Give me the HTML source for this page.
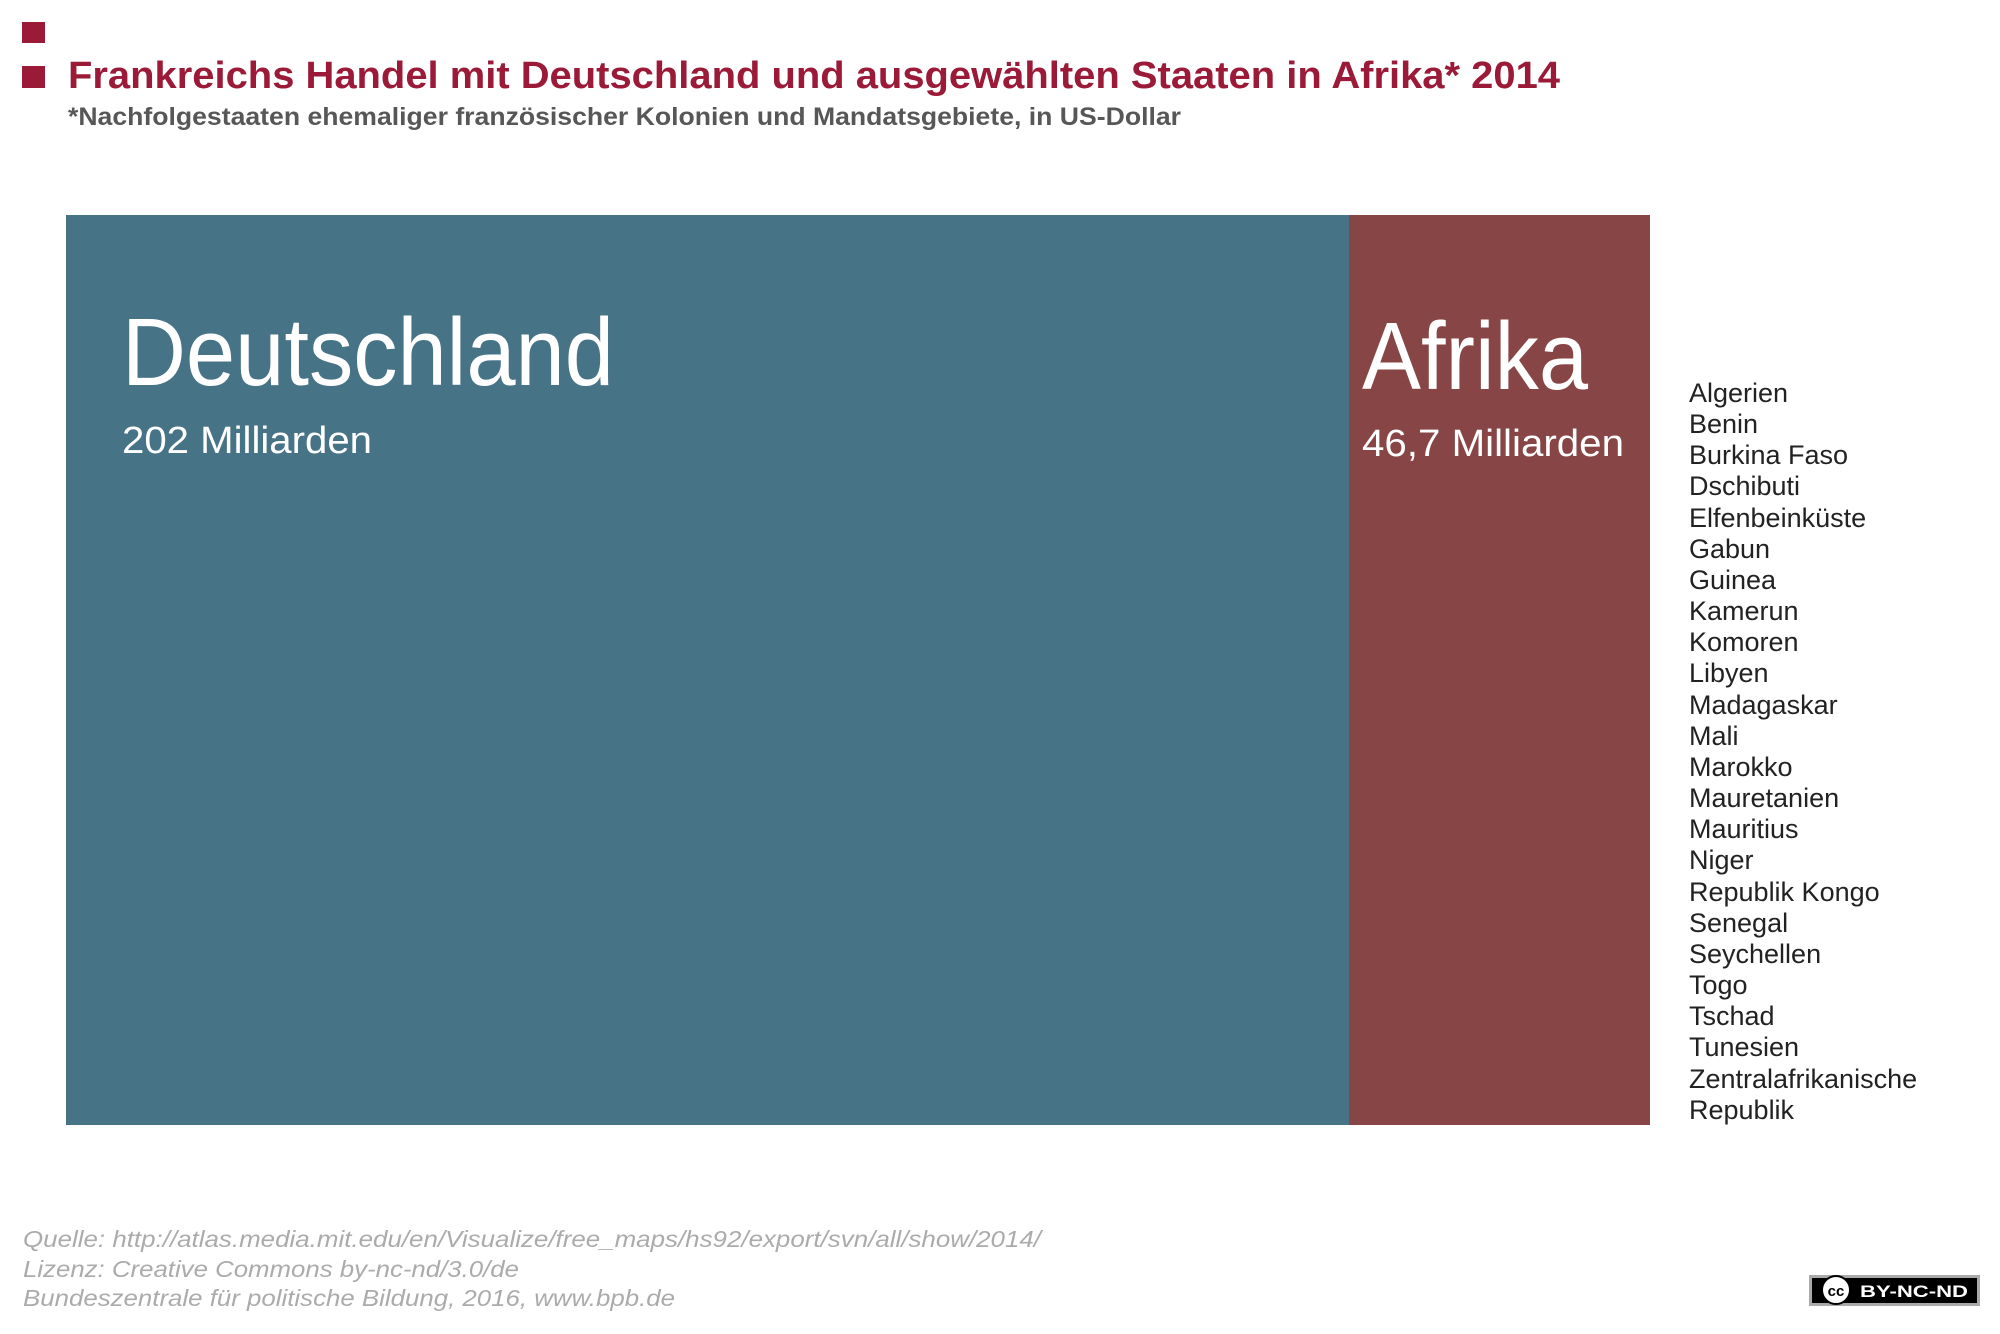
<!DOCTYPE html>
<html><head><meta charset="utf-8"><style>
html,body{margin:0;padding:0;background:#fff;}
svg{display:block;}
</style></head><body>
<svg width="2000" height="1334" viewBox="0 0 2000 1334" xmlns="http://www.w3.org/2000/svg" font-family="Liberation Sans, Arial, sans-serif">
<rect x="22" y="22" width="23" height="21" fill="#9a1a38"/>
<rect x="22" y="66" width="23" height="22" fill="#9a1a38"/>
<text x="68" y="88" font-size="38" font-weight="bold" fill="#9a1a38" textLength="1492" lengthAdjust="spacingAndGlyphs">Frankreichs Handel mit Deutschland und ausgewählten Staaten in Afrika* 2014</text>
<text x="68" y="125" font-size="25" font-weight="bold" fill="#575757" textLength="1113" lengthAdjust="spacingAndGlyphs">*Nachfolgestaaten ehemaliger französischer Kolonien und Mandatsgebiete, in US-Dollar</text>
<rect x="66" y="215" width="1283" height="910" fill="#477387"/>
<rect x="1349" y="215" width="301" height="910" fill="#874546"/>
<text x="122" y="385" font-size="96" fill="#fff" textLength="492" lengthAdjust="spacingAndGlyphs">Deutschland</text>
<text x="122" y="453" font-size="38" fill="#fff" textLength="250" lengthAdjust="spacingAndGlyphs">202 Milliarden</text>
<text x="1362" y="389" font-size="96" fill="#fff" textLength="226" lengthAdjust="spacingAndGlyphs">Afrika</text>
<text x="1362" y="456" font-size="38" fill="#fff" textLength="262" lengthAdjust="spacingAndGlyphs">46,7 Milliarden</text>
<g font-size="27" fill="#222">
<text x="1689" y="402">Algerien</text>
<text x="1689" y="433">Benin</text>
<text x="1689" y="464">Burkina Faso</text>
<text x="1689" y="495">Dschibuti</text>
<text x="1689" y="527">Elfenbeinküste</text>
<text x="1689" y="558">Gabun</text>
<text x="1689" y="589">Guinea</text>
<text x="1689" y="620">Kamerun</text>
<text x="1689" y="651">Komoren</text>
<text x="1689" y="682">Libyen</text>
<text x="1689" y="714">Madagaskar</text>
<text x="1689" y="745">Mali</text>
<text x="1689" y="776">Marokko</text>
<text x="1689" y="807">Mauretanien</text>
<text x="1689" y="838">Mauritius</text>
<text x="1689" y="869">Niger</text>
<text x="1689" y="901">Republik Kongo</text>
<text x="1689" y="932">Senegal</text>
<text x="1689" y="963">Seychellen</text>
<text x="1689" y="994">Togo</text>
<text x="1689" y="1025">Tschad</text>
<text x="1689" y="1056">Tunesien</text>
<text x="1689" y="1088">Zentralafrikanische</text>
<text x="1689" y="1119">Republik</text>
</g>
<g font-size="23" font-style="italic" fill="#ababab">
<text x="23" y="1247" textLength="1018" lengthAdjust="spacingAndGlyphs">Quelle: http://atlas.media.mit.edu/en/Visualize/free_maps/hs92/export/svn/all/show/2014/</text>
<text x="23" y="1277" textLength="496" lengthAdjust="spacingAndGlyphs">Lizenz: Creative Commons by-nc-nd/3.0/de</text>
<text x="23" y="1306" textLength="652" lengthAdjust="spacingAndGlyphs">Bundeszentrale für politische Bildung, 2016, www.bpb.de</text>
</g>
<rect x="1809" y="1275" width="171" height="31" fill="#aaa"/>
<rect x="1812" y="1278" width="165" height="25" fill="#000"/>
<circle cx="1836" cy="1290" r="14" fill="#fff" stroke="#000" stroke-width="2"/>
<text x="1836" y="1296" font-size="15" font-weight="bold" text-anchor="middle" fill="#000">cc</text>
<text x="1860" y="1297" font-size="17" font-weight="bold" fill="#fff" textLength="108" lengthAdjust="spacingAndGlyphs">BY-NC-ND</text>
</svg>
</body></html>
